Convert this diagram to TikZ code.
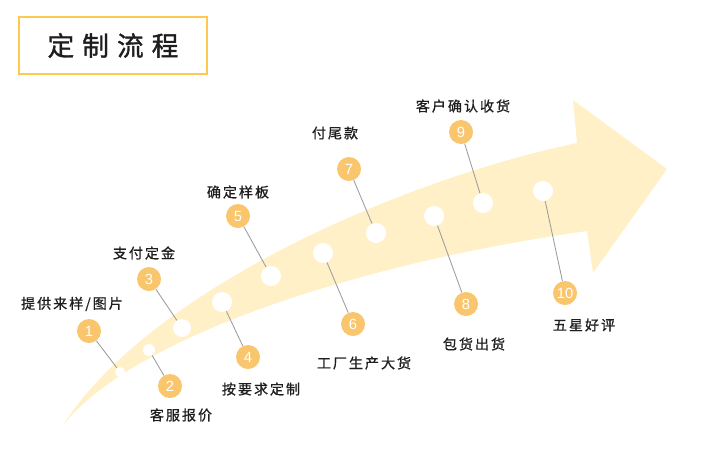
\documentclass[tikz,border=0pt]{standalone}
\usepackage{fontspec}
\usepackage{tikz}
\usetikzlibrary{positioning}
\newfontfamily\cjkfont[LetterSpace=14, FakeBold=0.8]{Noto Sans CJK SC}
\newfontfamily\cjktitle[LetterSpace=30, FakeBold=1.2]{Noto Sans CJK SC}
\newfontfamily\numfont{Liberation Sans}
\definecolor{arrowyellow}{HTML}{FFF0C8}
\definecolor{numorange}{HTML}{F9C66D}
\definecolor{titlegold}{HTML}{FFC94F}
\definecolor{leadgray}{HTML}{9B9B9B}
\definecolor{ink}{HTML}{1E1E1E}

\begin{document}
\begin{tikzpicture}[
      x=0.025cm, y=-0.025cm,
      titlebox/.style={draw=titlegold, line width=1.4pt,
                       minimum width=4.7cm, minimum height=1.425cm,
                       font=\cjktitle\fontsize{19}{22}\selectfont, text=ink},
      num/.style={circle, fill=numorange, text=white, inner sep=0pt,
                  minimum size=6mm, font=\numfont\fontsize{10.5}{12}\selectfont},
      hole/.style={circle, fill=white, inner sep=0pt, minimum size=5mm},
      steptext/.style={font=\cjkfont\fontsize{10}{12}\selectfont, text=ink},
      lead/.style={draw=leadgray, line width=0.6pt},
    ]
    \useasboundingbox (0,0) rectangle (720,460);

    % title
    \node[titlebox] (title) at (113,45.5) {定制流程};

    % the big arrow
    \fill[arrowyellow] (63,425) .. controls (150,290) and (400,180) .. (577,143)
      -- (573,100) -- (667,169) -- (593,273) -- (587,231)
      .. controls (380,260) and (140,330) .. (63,425) -- cycle;

    % holes on the arrow
    \node[hole, minimum size=2.5mm] (d1) at (120,372) {};
    \node[hole, minimum size=3mm] (d2) at (149,350) {};
    \node[hole, minimum size=4.5mm] (d3) at (182,328) {};
    \node[hole] (d4) at (222,302) {};
    \node[hole] (d5) at (271,276) {};
    \node[hole] (d6) at (323,253) {};
    \node[hole] (d7) at (376,233) {};
    \node[hole] (d8) at (434,216) {};
    \node[hole] (d9) at (483,203) {};
    \node[hole] (d10) at (543,191) {};

    % numbered circles
    \node[num] (n1) at (89,331) {1};
    \node[num] (n2) at (170,386) {2};
    \node[num] (n3) at (149,279) {3};
    \node[num] (n4) at (248,357) {4};
    \node[num] (n5) at (238,216) {5};
    \node[num] (n6) at (353,324) {6};
    \node[num] (n7) at (349,169) {7};
    \node[num] (n8) at (466,304) {8};
    \node[num] (n9) at (461,132) {9};
    \node[num] (n10) at (565,293) {10};

    % step names
    \node[steptext] (l1) at (72,304) {提供来样/图片};
    \node[steptext] (l2) at (181,415) {客服报价};
    \node[steptext] (l3) at (144,253) {支付定金};
    \node[steptext] (l4) at (261,389) {按要求定制};
    \node[steptext] (l5) at (238,192) {确定样板};
    \node[steptext] (l6) at (364,363) {工厂生产大货};
    \node[steptext] (l7) at (335,133) {付尾款};
    \node[steptext] (l8) at (474,344) {包货出货};
    \node[steptext] (l9) at (463,106) {客户确认收货};
    \node[steptext] (l10) at (584,325) {五星好评};

    \draw[lead] (n1) -- (d1); \draw[lead] (n2) -- (d2);
    \draw[lead] (n3) -- (d3); \draw[lead] (n4) -- (d4);
    \draw[lead] (n5) -- (d5); \draw[lead] (n6) -- (d6);
    \draw[lead] (n7) -- (d7); \draw[lead] (n8) -- (d8);
    \draw[lead] (n9) -- (d9); \draw[lead] (n10) -- (d10);
  \end{tikzpicture}
\end{document}
